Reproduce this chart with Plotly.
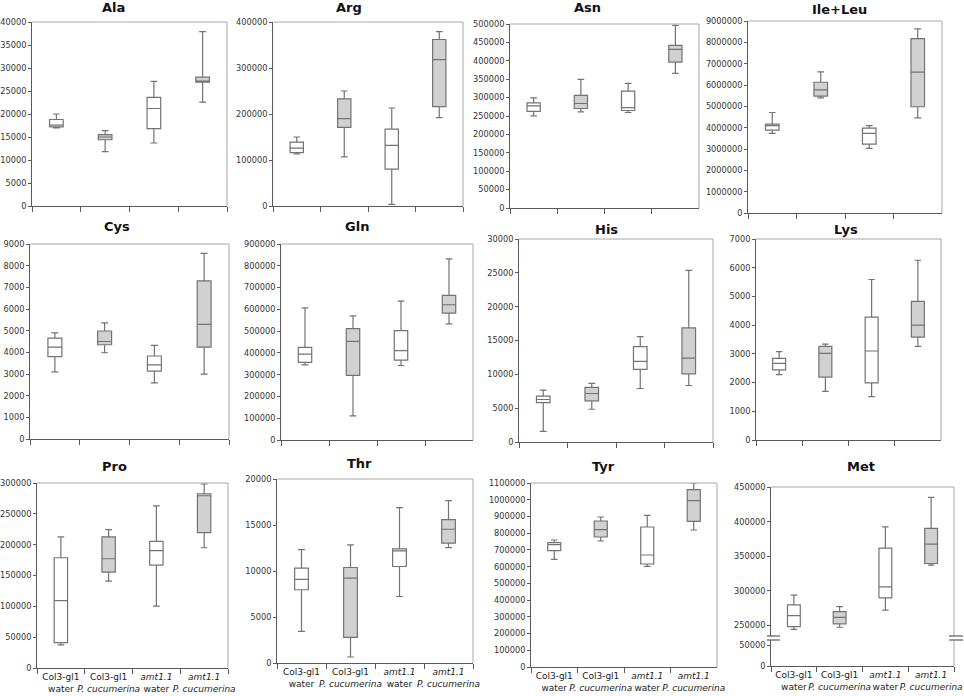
import plotly.graph_objects as go

W, H = 964, 696
FONT = "DejaVu Sans"

categories = ["Col3-gl1<br>water", "Col3-gl1<br><i>P. cucumerina</i>",
              "<i>amt1.1</i><br>water", "<i>amt1.1</i><br><i>P. cucumerina</i>"]

panel_names = ["Ala", "Arg", "Asn", "Ile+Leu", "Cys", "Gln", "His", "Lys",
               "Pro", "Thr", "Tyr", "Met"]

# per panel: lower whisker, q1, median, q3, upper whisker for the 4 groups
ala_low = [17000, 11800, 13700, 22600]
ala_q1 = [17200, 14400, 16800, 26900]
ala_med = [17600, 15000, 21200, 27150]
ala_q3 = [18800, 15500, 23600, 28000]
ala_high = [20000, 16400, 27100, 37900]

arg_low = [113000, 107000, 3600, 192000]
arg_q1 = [116000, 171000, 80000, 216000]
arg_med = [125600, 190000, 132000, 318000]
arg_q3 = [139000, 233000, 167000, 362000]
arg_high = [150000, 250000, 213000, 379000]

asn_low = [250500, 261000, 259500, 365700]
asn_q1 = [262300, 270400, 265000, 396600]
asn_med = [277700, 284000, 273000, 431000]
asn_q3 = [285800, 305800, 317600, 442000]
asn_high = [299500, 349400, 338500, 496400]

ile_low = [3730000, 5400000, 3030000, 4460000]
ile_q1 = [3885000, 5475000, 3230000, 4980000]
ile_med = [4100000, 5770000, 3730000, 6600000]
ile_q3 = [4165000, 6130000, 3980000, 8170000]
ile_high = [4710000, 6615000, 4100000, 8630000]

cys_low = [3100, 3980, 2590, 2990]
cys_q1 = [3800, 4350, 3130, 4240]
cys_med = [4240, 4500, 3420, 5290]
cys_q3 = [4660, 4985, 3830, 7300]
cys_high = [4900, 5355, 4320, 8565]

gln_low = [345000, 111000, 342000, 533000]
gln_q1 = [356000, 297000, 367000, 582500]
gln_med = [394500, 453000, 410000, 621000]
gln_q3 = [425000, 511600, 502400, 664000]
gln_high = [607000, 570000, 638000, 832000]

his_low = [1580, 4840, 7910, 8350]
his_q1 = [5830, 6080, 10730, 10080]
his_med = [6280, 7170, 11910, 12410]
his_q3 = [6770, 8060, 14090, 16860]
his_high = [7660, 8650, 15570, 25360]

lys_low = [2280, 1690, 1510, 3260]
lys_q1 = [2440, 2190, 1990, 3580]
lys_med = [2670, 3020, 3100, 4000]
lys_q3 = [2840, 3260, 4280, 4830]
lys_high = [3080, 3340, 5590, 6260]

pro_low = [37500, 140800, 100500, 195000]
pro_q1 = [41300, 155400, 166800, 219600]
pro_med = [109200, 177200, 190200, 279300]
pro_q3 = [178800, 212500, 205400, 282600]
pro_high = [212500, 224500, 263000, 298400]

thr_low = [3440, 650, 7230, 12550]
thr_q1 = [7960, 2780, 10490, 13020]
thr_med = [9080, 9220, 12190, 14540]
thr_q3 = [10310, 10380, 12400, 15590]
thr_high = [12330, 12840, 16890, 17650]

tyr_low = [643700, 753300, 601800, 819100]
tyr_q1 = [695500, 777200, 615800, 870900]
tyr_med = [731300, 821000, 669600, 994400]
tyr_q3 = [743300, 872800, 837000, 1060000]
tyr_high = [759200, 896700, 906700, 1100000]

met_low = [244700, 247600, 272200, 337200]
met_q1 = [248600, 252400, 290000, 339600]
met_med = [264500, 262000, 305900, 367500]
met_q3 = [279900, 270200, 361800, 390200]
met_high = [293900, 277500, 392600, 435100]

panel_data = [
    (ala_low, ala_q1, ala_med, ala_q3, ala_high),
    (arg_low, arg_q1, arg_med, arg_q3, arg_high),
    (asn_low, asn_q1, asn_med, asn_q3, asn_high),
    (ile_low, ile_q1, ile_med, ile_q3, ile_high),
    (cys_low, cys_q1, cys_med, cys_q3, cys_high),
    (gln_low, gln_q1, gln_med, gln_q3, gln_high),
    (his_low, his_q1, his_med, his_q3, his_high),
    (lys_low, lys_q1, lys_med, lys_q3, lys_high),
    (pro_low, pro_q1, pro_med, pro_q3, pro_high),
    (thr_low, thr_q1, thr_med, thr_q3, thr_high),
    (tyr_low, tyr_q1, tyr_med, tyr_q3, tyr_high),
    (met_low, met_q1, met_med, met_q3, met_high),
]

y_ranges = [(0, 40000, 5000), (0, 400000, 100000), (0, 500000, 50000),
            (0, 9000000, 1000000), (0, 9000, 1000), (0, 900000, 100000),
            (0, 30000, 5000), (0, 7000, 1000), (0, 300000, 50000),
            (0, 20000, 5000), (0, 1100000, 100000), (235000, 450000, 50000)]
met_upper_ticks = [250000, 300000, 350000, 400000, 450000]
met_lower_ticks = [0, 50000]
met_lower_range = (0, 63300)

# layout (pixels): x0, x1, ytop, ybottom
boxes_px = [
    (32, 227, 22, 206), (273, 463, 22, 206), (510, 699, 24, 208), (748, 942, 21, 213),
    (30, 229, 244, 439), (281, 473, 244, 440), (519, 713, 239, 442), (756, 941, 239, 440),
    (37, 228, 483, 668), (277, 473, 479, 663), (531, 717, 483, 667), (771, 954, 487, 636),
]
met_lower_px = (771, 954, 640, 666)
title_pos = [(113, 7), (349, 7), (587, 7), (839, 9), (117, 227), (357, 227), (606, 229),
             (846, 229), (114, 466), (359, 463), (603, 466), (861, 466)]

AXC = "#5a5a5a"
FRAME = "#a8a8a8"
BOXLINE = "#737373"
GRAY = "#d1d1d1"


def dx(p):
    return p / W


def dy(p):
    return 1 - p / H


fig = go.Figure()
layout = dict(width=W, height=H, margin=dict(l=0, r=0, t=0, b=0, autoexpand=False),
              paper_bgcolor="white", plot_bgcolor="white", showlegend=False,
              boxgap=0.6, boxmode="overlay", font=dict(family=FONT, color="#333"))
shapes = []
annotations = []

XTICKFONT = dict(size=9, family=FONT, color="#222")
YTICKFONT = dict(size=8.2, family=FONT, color="#333")

for i, (name, data) in enumerate(zip(panel_names, panel_data)):
    k = i + 1
    xa = "x" if k == 1 else f"x{k}"
    ya = "y" if k == 1 else f"y{k}"
    low, q1, med, q3, high = data
    for idx_set, fill in (([0, 2], "white"), ([1, 3], GRAY)):
        fig.add_trace(go.Box(
            x=[categories[j] for j in idx_set],
            lowerfence=[low[j] for j in idx_set],
            q1=[q1[j] for j in idx_set],
            median=[med[j] for j in idx_set],
            q3=[q3[j] for j in idx_set],
            upperfence=[high[j] for j in idx_set],
            fillcolor=fill, line=dict(color=BOXLINE, width=1.2),
            whiskerwidth=0.5, xaxis=xa, yaxis=ya, hoverinfo="skip"))
    x0, x1, yt, yb = boxes_px[i]
    bottom_row = k >= 9 and k != 12
    xkey = "xaxis" if k == 1 else f"xaxis{k}"
    ykey = "yaxis" if k == 1 else f"yaxis{k}"
    layout[xkey] = dict(domain=[dx(x0), dx(x1)], anchor=ya, type="category",
                        categoryorder="array", categoryarray=categories,
                        range=[-0.5, 3.5], tickson="boundaries", automargin=False,
                        ticks="outside" if k != 12 else "", ticklen=5, tickcolor=AXC,
                        showline=True, linecolor=AXC if k != 12 else "rgba(0,0,0,0)",
                        showticklabels=bottom_row, showgrid=False, tickangle=0,
                        tickfont=XTICKFONT)
    lo, hi, dt = y_ranges[i]
    yd = dict(domain=[dy(yb), dy(yt)], anchor=xa, range=[lo, hi], automargin=False,
              showline=True, linecolor=AXC, ticks="outside", ticklen=3, tickcolor=AXC,
              showgrid=False, zeroline=False, tickformat="d", tickfont=YTICKFONT)
    if k == 12:
        yd.update(tickmode="array", tickvals=met_upper_ticks)
    else:
        yd.update(tick0=0, dtick=dt)
    layout[ykey] = yd
    # frame lines top and right
    shapes.append(dict(type="line", xref=f"{xa} domain", yref=f"{ya} domain",
                       x0=0, x1=1, y0=1, y1=1, line=dict(color=FRAME, width=1)))
    shapes.append(dict(type="line", xref=f"{xa} domain", yref=f"{ya} domain",
                       x0=1, x1=1, y0=0, y1=1, line=dict(color=FRAME, width=1)))
    tx, ty = title_pos[i]
    annotations.append(dict(text=f"<b>{name}</b>", x=dx(tx), y=dy(ty), xref="paper",
                            yref="paper", showarrow=False, yanchor="middle",
                            xanchor="center",
                            font=dict(size=13, family=FONT, color="#111")))

# Met lower (broken) axis part
fig.add_trace(go.Scatter(x=categories, y=[None] * len(categories), mode="lines",
                         xaxis="x13", yaxis="y13", hoverinfo="skip"))
x0, x1, yt, yb = met_lower_px
layout["xaxis13"] = dict(domain=[dx(x0), dx(x1)], anchor="y13", type="category",
                         categoryorder="array", categoryarray=categories,
                         range=[-0.5, 3.5], tickson="boundaries", ticks="outside",
                         ticklen=5, tickcolor=AXC, showline=True, linecolor=AXC,
                         showgrid=False, tickangle=0, automargin=False,
                         tickfont=XTICKFONT)
layout["yaxis13"] = dict(domain=[dy(yb), dy(yt)], anchor="x13", range=list(met_lower_range),
                         tickmode="array", tickvals=met_lower_ticks, tickformat="d",
                         showline=True, linecolor=AXC, ticks="outside", ticklen=3,
                         tickcolor=AXC, showgrid=False, zeroline=False, automargin=False,
                         tickfont=YTICKFONT)
shapes.append(dict(type="line", xref="x13 domain", yref="y13 domain",
                   x0=1, x1=1, y0=0, y1=1, line=dict(color=FRAME, width=1)))
# break marks
for (bx0, bx1) in ((767, 780), (949, 963)):
    for by in (636, 640):
        shapes.append(dict(type="line", xref="paper", yref="paper",
                           x0=dx(bx0), x1=dx(bx1), y0=dy(by), y1=dy(by),
                           line=dict(color=AXC, width=1.2)))

layout["shapes"] = shapes
layout["annotations"] = annotations
fig.update_layout(**layout)
fig.write_html("out.html", config={"displayModeBar": False},
               post_script="document.body.style.margin='0';document.body.style.overflow='hidden';")
